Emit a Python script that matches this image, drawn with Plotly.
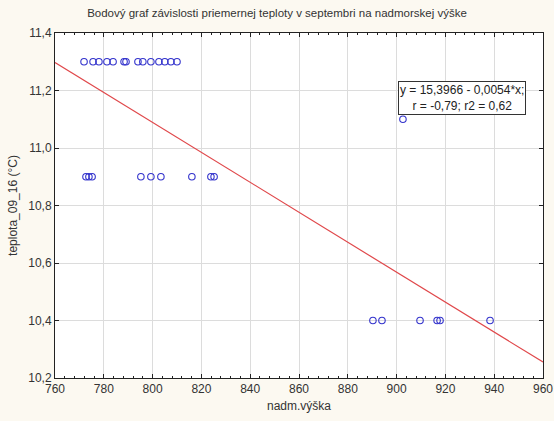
import numpy as np
import plotly.graph_objects as go

# data
x_top = [771.9, 775.6, 778.0, 781.3, 783.8, 788.3, 789.1, 794.0, 796.0, 799.3, 802.6, 805.0, 807.5, 810.0]
x_mid = [772.7, 773.9, 775.2, 795.2, 799.3, 803.4, 816.1, 823.9, 825.2]
x_single = [902.6]
x_bottom = [890.3, 894.0, 909.6, 916.6, 917.8, 938.3]

altitude = x_top + x_mid + x_single + x_bottom
temperature = [11.3] * len(x_top) + [10.9] * len(x_mid) + [11.1] * len(x_single) + [10.4] * len(x_bottom)

# regression line as drawn (intercept, slope)
line_x = [760, 960]
intercept = 15.257
slope = -0.00521
line_y = [intercept + slope * v for v in line_x]

eq_text = "y = 15,3966 - 0,0054*x;<br>r = -0,79; r2 = 0,62"

x_ticks = list(range(760, 961, 20))
y_ticks = [10.2, 10.4, 10.6, 10.8, 11.0, 11.2, 11.4]
y_labels = [f"{v:.1f}".replace(".", ",") for v in y_ticks]

fig = go.Figure()
fig.add_trace(go.Scatter(x=line_x, y=line_y, mode="lines",
                         line=dict(color="#E0484B", width=1.2), hoverinfo="skip"))
fig.add_trace(go.Scatter(x=altitude, y=temperature, mode="markers",
                         marker=dict(symbol="circle-open", size=6.5, color="#3333CC",
                                     line=dict(width=1.1))))

fig.update_layout(
    width=554, height=421,
    paper_bgcolor="#FCF9F1", plot_bgcolor="white",
    margin=dict(l=55, r=11, t=33, b=43, autoexpand=False),
    showlegend=False,
    font=dict(family="Liberation Sans, Arial, sans-serif", color="#333333", size=12),
    title=dict(text="Bodový graf závislosti priemernej teploty v septembri na nadmorskej výške",
               x=0.5, xanchor="center", y=0.97, yanchor="middle",
               font=dict(size=11.5, color="#333333")),
    annotations=[dict(text=eq_text, xref="paper", yref="paper",
                      x=0.703, y=0.862, xanchor="left", yanchor="top", showarrow=False,
                      align="center", bgcolor="white", bordercolor="#333333", borderwidth=1,
                      borderpad=1, font=dict(size=12, color="#222222"))],
)
fig.update_xaxes(range=[760, 960], tickvals=x_ticks, ticktext=[str(v) for v in x_ticks],
                 automargin=False,
                 showgrid=True, gridcolor="#DCDCDC", gridwidth=1,
                 showline=True, linecolor="#222222", linewidth=1, mirror="allticks",
                 ticks="inside", ticklen=4, tickcolor="#222222",
                 minor=dict(ticks="inside", ticklen=2, dtick=4, tickcolor="#222222", showgrid=False),
                 zeroline=False,
                 title=dict(text="nadm.výška", standoff=6, font=dict(size=12)))
fig.update_yaxes(range=[10.2, 11.4], tickvals=y_ticks, ticktext=y_labels,
                 automargin=False,
                 showgrid=True, gridcolor="#DCDCDC", gridwidth=1,
                 showline=True, linecolor="#222222", linewidth=1, mirror="allticks",
                 ticks="inside", ticklen=4, tickcolor="#222222",
                 zeroline=False,
                 title=dict(text="teplota_09_16 (°C)", standoff=8, font=dict(size=12)))

fig.write_html("out.html")
